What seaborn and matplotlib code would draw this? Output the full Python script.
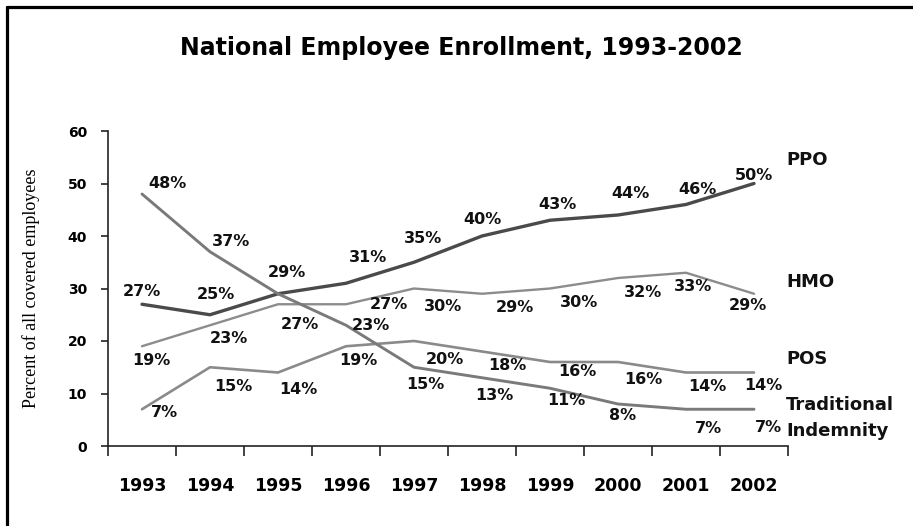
import matplotlib
matplotlib.use("Agg")
import matplotlib.pyplot as plt
from matplotlib.lines import Line2D
import seaborn as sns
import pandas as pd

years = ["1993", "1994", "1995", "1996", "1997", "1998", "1999", "2000", "2001", "2002"]
ppo = [27, 25, 29, 31, 35, 40, 43, 44, 46, 50]
hmo = [19, 23, 27, 27, 30, 29, 30, 32, 33, 29]
pos = [7, 15, 14, 19, 20, 18, 16, 16, 14, 14]
trad = [48, 37, 29, 23, 15, 13, 11, 8, 7, 7]
series_names = ["PPO", "HMO", "POS", "Traditional\nIndemnity"]
yticks = [0, 10, 20, 30, 40, 50, 60]

# which value labels are shown (Traditional 1995 shares the 29% label with PPO)
show = {
    "PPO": [True] * 10,
    "HMO": [True] * 10,
    "POS": [True] * 10,
    "Traditional\nIndemnity": [True, True, False, True, True, True, True, True, True, True],
}
# label offsets in pixels (dx, dy)
offsets = {
    "PPO": [(0, 13), (6, 20), (9, 21), (22, 26), (9, 24), (0, 17), (7, 16), (12, 22), (11, 15), (0, 8)],
    "HMO": [(9, -14), (19, -13), (22, -20), (43, 0), (29, -18), (33, -14), (29, -14), (25, -14), (7, -14), (-6, -12)],
    "POS": [(22, -3), (23, -19), (20, -17), (12, -14), (31, -18), (25, -14), (27, -10), (25, -17), (21, -14), (9, -13)],
    "Traditional\nIndemnity": [(25, 11), (21, 10), (0, 0), (25, 0), (11, -17), (12, -18), (16, -12), (5, -11), (22, -19), (14, -18)],
}
styles = {
    "PPO": dict(color="#4a4a4a", lw=2.4),
    "HMO": dict(color="#8c8c8c", lw=1.7),
    "POS": dict(color="#8a8a8a", lw=1.9),
    "Traditional\nIndemnity": dict(color="#7a7a7a", lw=2.1),
}
name_pos = {"PPO": 54.5, "HMO": 31.2, "POS": 16.6, "Traditional\nIndemnity": 5.4}

sns.set_style("ticks")
plt.rcParams["font.family"] = ["DejaVu Sans"]
plt.rcParams["text.color"] = "black"
plt.rcParams["axes.labelcolor"] = "black"
plt.rcParams["xtick.color"] = "black"
plt.rcParams["ytick.color"] = "black"

values = {"PPO": ppo, "HMO": hmo, "POS": pos, "Traditional\nIndemnity": trad}
rows = []
for name in series_names:
    for y, v in zip(years, values[name]):
        rows.append({"year": y, "value": v, "series": name})
df = pd.DataFrame(rows)

fig = plt.figure(figsize=(9.13, 5.26), dpi=100)
ax = fig.add_axes([108 / 913, 1 - 446 / 526, 680 / 913, 315 / 526])

for name in series_names:
    sub = df[df["series"] == name]
    sns.lineplot(data=sub, x="year", y="value", ax=ax, color=styles[name]["color"],
                 linewidth=styles[name]["lw"], legend=False)
    for i, (v, s, off) in enumerate(zip(values[name], show[name], offsets[name])):
        if s:
            ax.annotate(f"{v}%", (i, v), xytext=off, textcoords="offset pixels",
                        ha="center", va="center", fontsize=11.5, fontweight="bold", color="#111111")

ax.set_xlim(-0.5, 9.5)
ax.set_ylim(0, 60)
ax.set_yticks(yticks)
ax.set_yticklabels([str(t) for t in yticks], fontsize=10, fontweight="bold")
ax.set_xticks(range(len(years)))
ax.set_xticklabels(years, fontsize=12.5, fontweight="bold")
ax.set_xticks([i - 0.5 for i in range(len(years) + 1)], minor=True)
ax.tick_params(axis="x", which="major", length=0, pad=22)
ax.tick_params(axis="x", which="minor", length=7, width=1.2, color="#222222")
ax.tick_params(axis="y", which="major", length=5, width=1.2, color="#222222", pad=10)
ax.set_xlabel("")
ax.set_ylabel("Percent of all covered employees", family=["Liberation Serif"], fontsize=13, labelpad=20)
for side in ["top", "right"]:
    ax.spines[side].set_visible(False)
for side in ["left", "bottom"]:
    ax.spines[side].set_linewidth(1.2)
    ax.spines[side].set_color("#222222")

for name in series_names:
    ax.text(9.5 - 0.03, name_pos[name], name, fontsize=13, fontweight="bold",
            ha="left", va="center", linespacing=1.55, color="#111111")

fig.text(461 / 913, 1 - 48 / 526, "National Employee Enrollment, 1993-2002",
         ha="center", va="center", fontsize=17, fontweight="bold", color="black")

# figure frame (left and top edges)
fig.add_artist(Line2D([7 / 913, 7 / 913], [0, 1 - 7 / 526], color="black", lw=2.3,
                      transform=fig.transFigure))
fig.add_artist(Line2D([7 / 913, 1], [1 - 7 / 526, 1 - 7 / 526], color="black", lw=2.3,
                      transform=fig.transFigure))

fig.savefig("out.png", dpi=100)
